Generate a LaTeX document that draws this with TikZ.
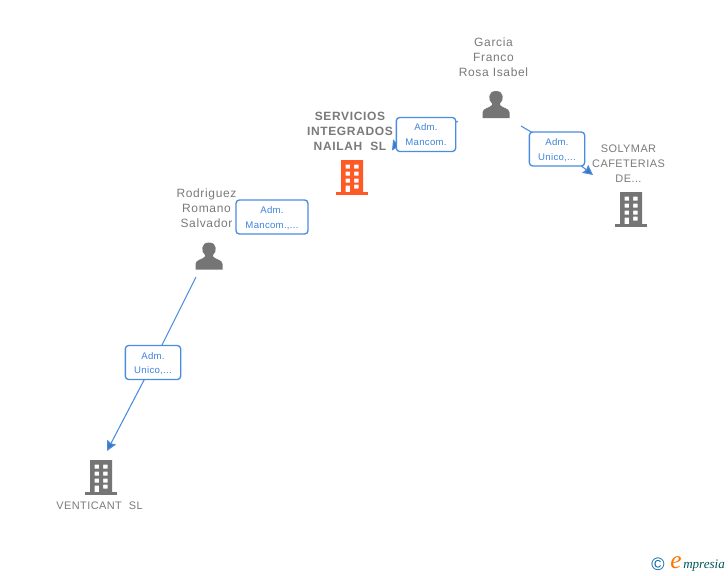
\documentclass[tikz,border=0pt]{standalone}
\usepackage{fontspec}
\setmainfont{Liberation Sans}
\newfontfamily\spaced[LetterSpace=5.5]{Liberation Sans}
\newfontfamily\compfont[LetterSpace=4]{Liberation Sans}
\newfontfamily\labfont[LetterSpace=3]{Liberation Sans}
\newfontfamily\logofont{Liberation Serif}
\usetikzlibrary{arrows.meta}
\definecolor{ngray}{HTML}{7A7A7A}
\definecolor{iconGray}{HTML}{757575}
\definecolor{iconOrange}{HTML}{FF5A26}
\definecolor{linkBlue}{HTML}{4A8CE0}
\definecolor{labText}{HTML}{3F82DC}
\newcommand\lowerlab{\rule{0pt}{7pt}}
\tikzset{
 x=0.75pt,y=-0.75pt,
 nodetext/.style={text=ngray,font=\spaced\fontsize{9}{11.25}\selectfont,align=center,inner sep=0pt},
 comptext/.style={text=ngray,font=\compfont\fontsize{8.2}{11.25}\selectfont,align=center,inner sep=0pt},
 boldtext/.style={text=ngray,font=\spaced\bfseries\fontsize{9}{11.25}\selectfont,align=center,inner sep=0pt},
 linklabel/.style={draw=linkBlue,line width=1pt,rounded corners=2.5pt,fill=white,text=labText,
   font=\labfont\fontsize{7.2}{11.1}\selectfont,align=center,inner sep=0pt},
 linkline/.style={draw=linkBlue,line width=0.8pt},
 tip/.style={-{Stealth[length=7.5pt,width=7.5pt,inset=1pt,fill=linkBlue!85!black]}},
 pics/person/.style={code={
   \fill[iconGray] (-13.5,13.5) -- (-13.5,8) .. controls (-13.5,3.5) and (-6,3.5) .. (-4,0.5)
     -- (-4,-1) .. controls (-8,-4) and (-8.5,-13.5) .. (0,-13.5)
     .. controls (8.5,-13.5) and (8,-4) .. (4,-1) -- (4,0.5)
     .. controls (6,3.5) and (13.5,3.5) .. (13.5,8) -- (13.5,13.5) -- cycle;
 }},
 pics/building/.style={code={
   \fill[#1] (-16,14.5) rectangle (16,17.5);
   \fill[#1,even odd rule] (-11,-17) rectangle (11,15)
     (-6.5,-12.5) rectangle (-2,-8.5) (2,-12.5) rectangle (6.5,-8.5)
     (-6.5,-5.5) rectangle (-2,-1.5) (2,-5.5) rectangle (6.5,-1.5)
     (-6.5,1.5) rectangle (-2,5.5) (2,1.5) rectangle (6.5,5.5)
     (-6.5,8.5) rectangle (-2,15) (2,7.5) rectangle (6.5,11.5);
 }},
}
\begin{document}
\begin{tikzpicture}
\useasboundingbox[fill=white] (0,0) rectangle (728,575);

% icons
\pic at (496,104.5) {person};
\pic at (209,256) {person};
\pic at (352,177) {building={iconOrange}};
\pic at (631,209) {building={iconGray}};
\pic at (101,477) {building={iconGray}};

% anchors of the connectors
\coordinate (garciaA) at (458,121.5);
\coordinate (garciaB) at (521,126);
\coordinate (serviciosIn) at (392,150.5);
\coordinate (solymarIn) at (593,175);
\coordinate (rodriguezOut) at (196,277);
\coordinate (venticantIn) at (107,451);
\coordinate (bendA) at (400,138);
\coordinate (bendB) at (557,147);
\coordinate (bendC) at (154,361);

\draw[linkline,tip] (garciaA) -- (bendA) -- (serviciosIn);
\draw[linkline,tip] (garciaB) -- (bendB) -- (solymarIn);
\draw[linkline,tip] (rodriguezOut) -- (bendC) -- (venticantIn);

% texts
\node[nodetext] (garcia) at (493.5,57) {Garcia\\Franco\\Rosa Isabel};
\node[boldtext] (servicios) at (350,131) {SERVICIOS\\INTEGRADOS\\NAILAH\ \ SL};
\node[nodetext] (rodriguez) at (206.5,208) {Rodriguez\\Romano\\Salvador};
\node[comptext] (solymar) at (628.5,163.7) {SOLYMAR\\CAFETERIAS\\DE...};
\node[comptext] (venticant) at (99.5,506) {VENTICANT\ \ SL};

% link labels
\node[linklabel,minimum width=44.5pt,minimum height=25.5pt] (l1) at (426,134.5) {Adm.\\Mancom.};
\node[linklabel,minimum width=41.5pt,minimum height=25.5pt] (l2) at (557,149) {\lowerlab Adm.\\Unico,...};
\node[linklabel,minimum width=54pt,minimum height=25.5pt] (l3) at (272,217) {\lowerlab Adm.\\Mancom.,...};
\node[linklabel,minimum width=41.5pt,minimum height=25.5pt] (l4) at (153,362.5) {\lowerlab Adm.\\Unico,...};

% logo
\node[inner sep=0pt,text=teal!75!blue,font=\fontsize{13.5}{13.5}\selectfont] (copy) at (658,564) {©};
\node[inner sep=0pt,anchor=base west,text=orange!90!red,font=\logofont\itshape\fontsize{19}{19}\selectfont] (logoE) at (670,568) {e};
\node[inner sep=0pt,anchor=base west,text=teal!70!black,font=\logofont\itshape\fontsize{9.8}{10}\selectfont] (logoR) at (683,568) {mpresia};
\end{tikzpicture}
\end{document}
